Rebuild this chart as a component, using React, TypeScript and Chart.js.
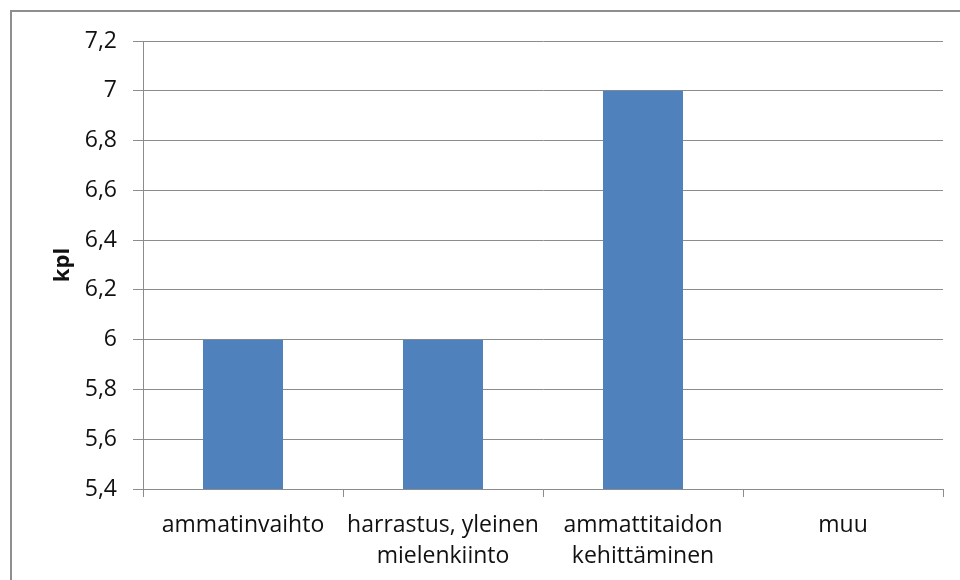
import React, { useEffect, useRef } from "react";
import { Chart, registerables } from "chart.js";

Chart.register(...registerables);

const categories: (string | string[])[] = [
  "ammatinvaihto",
  ["harrastus, yleinen", "mielenkiinto"],
  ["ammattitaidon", "kehittäminen"],
  "muu",
];
const values: number[] = [6, 6, 7, 0];
const yMin = 5.4;
const yMax = 7.2;
const yStep = 0.2;
const yTitle = "kpl";

const GRID = "#8c8c8c";
const TEXT = "#111";
const FONT = "'Open Sans', 'Noto Sans', sans-serif";

export default function App() {
  const ref = useRef<HTMLCanvasElement | null>(null);

  useEffect(() => {
    document.body.style.margin = "0";
    const canvas = ref.current;
    if (!canvas) return;
    const chart = new Chart(canvas, {
      type: "bar",
      data: {
        labels: categories,
        datasets: [
          {
            data: values,
            backgroundColor: "#4f81bd",
            borderWidth: 0,
            categoryPercentage: 1,
            barPercentage: 0.4,
          },
        ],
      },
      options: {
        responsive: false,
        animation: false,
        devicePixelRatio: 1,
        layout: { padding: { left: 0, top: 41, right: 17, bottom: 0 } },
        plugins: {
          legend: { display: false },
          tooltip: { enabled: false },
          title: { display: false },
        },
        scales: {
          x: {
            offset: true,
            grid: {
              offset: true,
              drawOnChartArea: false,
              drawTicks: true,
              tickLength: 8,
              color: GRID,
              lineWidth: 1,
            },
            border: { color: GRID, width: 1 },
            ticks: {
              color: TEXT,
              padding: 13,
              maxRotation: 0,
              autoSkip: false,
              font: { family: FONT, size: 23, lineHeight: 1.35 },
            },
            afterFit: (scale: any) => {
              scale.height = 91;
            },
          },
          y: {
            min: yMin,
            max: yMax,
            grid: {
              color: GRID,
              lineWidth: 1,
              drawTicks: true,
              tickLength: 10,
            },
            border: { color: GRID, width: 1 },
            ticks: {
              stepSize: yStep,
              color: TEXT,
              padding: 16,
              font: { family: FONT, size: 23 },
              callback: (v: any) => {
                const s = Number(v).toFixed(1).replace(/\.0$/, "");
                return s.replace(".", ",");
              },
            },
            title: {
              display: true,
              text: yTitle,
              color: TEXT,
              font: { family: FONT, size: 22, weight: "bold" },
              padding: { top: 50, bottom: 0 },
            },
            afterFit: (scale: any) => {
              scale.width = 143;
            },
          },
        },
      },
    });
    return () => chart.destroy();
  }, []);

  return (
    <div style={{ position: "absolute", left: 0, top: 0, width: 960, height: 580, background: "#fff" }}>
      <canvas ref={ref} width={960} height={580} style={{ position: "absolute", left: 0, top: 0 }} />
      <div
        style={{
          position: "absolute",
          left: 10,
          top: 10,
          width: 950,
          height: 570,
          borderTop: "2px solid #8e8e8e",
          borderLeft: "2px solid #8e8e8e",
          boxSizing: "border-box",
          pointerEvents: "none",
        }}
      />
    </div>
  );
}
